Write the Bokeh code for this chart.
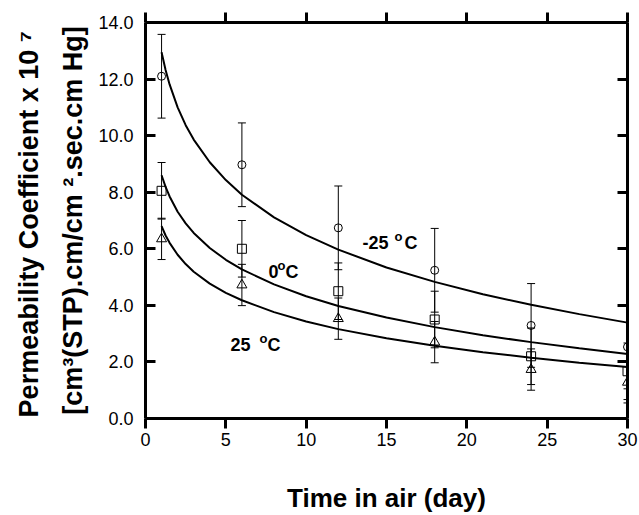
import math
from bokeh.plotting import figure
from bokeh.models import (Range1d, LinearAxis, FixedTicker, NumeralTickFormatter,
                          Label, Whisker, ColumnDataSource, TeeHead)
from bokeh.embed import file_html
from bokeh.resources import INLINE

# ---------------- data ----------------
days = [1, 6, 12, 18, 24, 30]
perm_m25 = [12.10, 8.97, 6.74, 5.24, 3.29, 2.53]
perm_0 = [8.05, 6.00, 4.50, 3.50, 2.20, 1.67]
perm_25 = [6.35, 4.72, 3.53, 2.70, 1.73, 1.28]
err_m25 = [1.48, 1.48, 1.48, 1.48, 1.48, 1.48]
err_0 = [1.00, 1.00, 1.00, 1.00, 1.00, 1.00]
err_25 = [0.73, 0.73, 0.73, 0.73, 0.73, 0.73]

fit_days = [1, 1.25, 1.5, 2, 2.5, 3, 4, 5, 6, 8, 10, 12, 15, 18, 21, 24, 27, 30]
fit_m25 = [12.95, 12.32, 11.81, 11.00, 10.37, 9.86, 9.06, 8.43, 7.91, 7.11, 6.48,
           5.97, 5.34, 4.83, 4.39, 4.02, 3.69, 3.39]
fit_0 = [8.60, 8.19, 7.85, 7.31, 6.90, 6.56, 6.03, 5.61, 5.27, 4.74, 4.32, 3.98,
         3.57, 3.23, 2.94, 2.70, 2.48, 2.28]
fit_25 = [6.80, 6.47, 6.21, 5.79, 5.46, 5.19, 4.77, 4.44, 4.18, 3.76, 3.43, 3.16,
          2.84, 2.57, 2.34, 2.15, 1.97, 1.82]

x_ticks = [0, 5, 10, 15, 20, 25, 30]
y_ticks = [0, 2, 4, 6, 8, 10, 12, 14]

x_title = "Time in air (day)"
y_title = "Permeability Coefficient x 10  \u2077\n[cm\u00b3(STP).cm/cm \u00b2.sec.cm Hg]"

# ---------------- layout ----------------
W, H = 639, 515
ML, MR, MT, MB = 145, 12, 22, 97
X_MIN, X_MAX, Y_MIN, Y_MAX = 0, 30, 0, 14
FW, FH = W - ML - MR, H - MT - MB


def dx(sx):
    return X_MIN + (sx - ML) / FW * (X_MAX - X_MIN)


def dy(sy):
    return Y_MIN + (MT + FH - sy) / FH * (Y_MAX - Y_MIN)


FONT = "Liberation Sans"

p = figure(width=W, height=H, x_range=Range1d(X_MIN, X_MAX), y_range=Range1d(Y_MIN, Y_MAX),
           output_backend="svg", toolbar_location=None,
           min_border_left=ML, min_border_right=MR, min_border_top=MT, min_border_bottom=MB)
p.outline_line_color = None
p.grid.visible = False
p.background_fill_color = "white"
p.border_fill_color = "white"


def style_axis(ax, tin, tout, ticks, labels=True):
    ax.axis_line_width = 3
    ax.axis_line_color = "black"
    ax.major_tick_line_width = 3
    ax.major_tick_line_color = "black"
    ax.minor_tick_line_color = None
    ax.major_tick_in = tin
    ax.major_tick_out = tout
    if labels:
        ax.major_label_text_font = FONT
        ax.major_label_text_font_size = "18px"
        ax.major_label_text_color = "black"
    else:
        ax.major_label_overrides = {t: "" for t in ticks}
        ax.major_label_standoff = 0


xa = p.xaxis[0]
xa.ticker = FixedTicker(ticks=x_ticks)
style_axis(xa, 0, 10, x_ticks)
xa.major_label_standoff = 4
xa.axis_label = x_title
xa.axis_label_text_font = FONT
xa.axis_label_text_font_style = "bold"
xa.axis_label_text_font_size = "26px"
xa.axis_label_text_color = "black"
xa.axis_label_standoff = 34

ya = p.yaxis[0]
ya.ticker = FixedTicker(ticks=y_ticks)
ya.formatter = NumeralTickFormatter(format="0.0")
style_axis(ya, 10, 0, y_ticks)
ya.major_label_standoff = 12
ya.axis_label = y_title
ya.axis_label_text_font = FONT
ya.axis_label_text_font_style = "bold"
ya.axis_label_text_font_size = "27px"
ya.axis_label_text_color = "black"
ya.axis_label_text_line_height = 1.48
ya.axis_label_standoff = 7

top = LinearAxis(ticker=FixedTicker(ticks=x_ticks))
style_axis(top, 0, 10, x_ticks, labels=False)
p.add_layout(top, "above")
right = LinearAxis(ticker=FixedTicker(ticks=y_ticks))
style_axis(right, 10, 0, y_ticks, labels=False)
p.add_layout(right, "right")

# ---------------- fitted curves ----------------
for fy in (fit_m25, fit_0, fit_25):
    p.line(fit_days, fy, line_color="black", line_width=2)

# ---------------- error bars and markers ----------------
series = [(perm_m25, err_m25, "circle", 8),
          (perm_0, err_0, "square", 9),
          (perm_25, err_25, "triangle", 10)]
for vals, errs, mk, sz in series:
    src = ColumnDataSource(dict(x=days, y=vals,
                                lo=[v - e for v, e in zip(vals, errs)],
                                hi=[v + e for v, e in zip(vals, errs)]))
    p.add_layout(Whisker(source=src, base="x", lower="lo", upper="hi",
                         line_color="black", line_width=1,
                         lower_head=TeeHead(size=8, line_width=1, line_color="black"),
                         upper_head=TeeHead(size=8, line_width=1, line_color="black")))
    p.scatter("x", "y", source=src, marker=mk, size=sz, line_color="black",
              line_width=1, fill_color=None)


# ---------------- curve annotations ----------------
def lab(sx, sy, text, size):
    p.add_layout(Label(x=dx(sx), y=dy(sy), text=text,
                       text_align="left", text_baseline="alphabetic",
                       text_font=FONT, text_font_size=size,
                       text_font_style="bold", text_color="black"))


lab(362, 242, "-25", "18px")
lab(394, 236, "o", "13px")
lab(404, 242, "C", "18px")
lab(268, 271, "0", "18px")
lab(277, 265, "o", "13px")
lab(285, 271, "C", "18px")
lab(230, 344, "25", "18px")
lab(259, 338, "o", "13px")
lab(267, 344, "C", "18px")

open("out.html", "w").write(file_html(p, INLINE))
